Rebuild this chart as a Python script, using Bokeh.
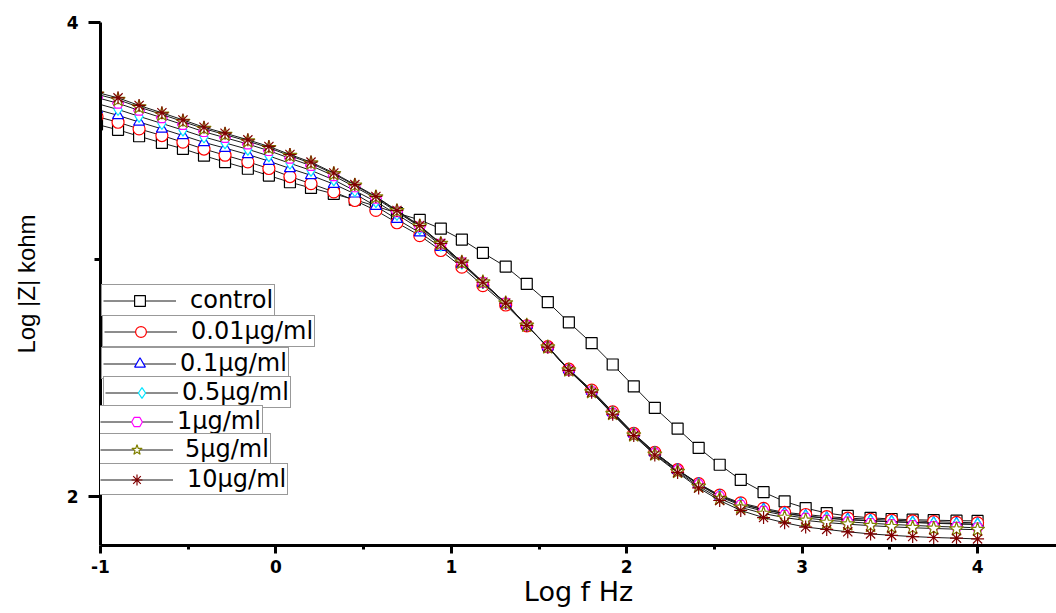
from bokeh.plotting import figure
from bokeh.models import Legend, LegendItem, FixedTicker, Range1d, ColumnDataSource
from bokeh.embed import file_html
from bokeh.resources import INLINE

# log10 of frequency (Hz)
log_f = [-1.02, -0.90, -0.78, -0.65, -0.53, -0.41, -0.29, -0.16, -0.04,
         0.08, 0.20, 0.33, 0.45, 0.57, 0.69, 0.82, 0.94,
         1.06, 1.18, 1.31, 1.43, 1.55, 1.67, 1.80, 1.92,
         2.04, 2.16, 2.29, 2.41, 2.53, 2.65, 2.78, 2.90,
         3.02, 3.14, 3.26, 3.39, 3.51, 3.63, 3.75, 3.88, 4.00]

control = [3.570, 3.547, 3.520, 3.492, 3.467, 3.438, 3.411, 3.383, 3.354,
           3.326, 3.302, 3.277, 3.252, 3.225, 3.196, 3.167, 3.130,
           3.084, 3.028, 2.970, 2.897, 2.820, 2.735, 2.647, 2.557,
           2.465, 2.374, 2.286, 2.205, 2.134, 2.070, 2.018, 1.979,
           1.951, 1.930, 1.918, 1.910, 1.905, 1.902, 1.900, 1.898, 1.897]

c_001 = [3.603, 3.579, 3.551, 3.523, 3.495, 3.466, 3.440, 3.412, 3.384,
         3.350, 3.320, 3.285, 3.249, 3.207, 3.155, 3.101, 3.038,
         2.968, 2.890, 2.808, 2.720, 2.632, 2.537, 2.449, 2.357,
         2.266, 2.186, 2.113, 2.054, 2.006, 1.973, 1.950, 1.933,
         1.924, 1.915, 1.909, 1.904, 1.900, 1.897, 1.894, 1.891, 1.889]

c_01 = [3.633, 3.608, 3.580, 3.551, 3.523, 3.494, 3.470, 3.443, 3.415,
        3.384, 3.355, 3.318, 3.277, 3.225, 3.170, 3.113, 3.052,
        2.980, 2.900, 2.814, 2.722, 2.631, 2.535, 2.445, 2.355,
        2.265, 2.185, 2.112, 2.053, 2.003, 1.969, 1.945, 1.929,
        1.918, 1.909, 1.903, 1.898, 1.894, 1.891, 1.888, 1.885, 1.883]

c_05 = [3.658, 3.633, 3.604, 3.574, 3.546, 3.517, 3.492, 3.465, 3.437,
        3.406, 3.376, 3.336, 3.290, 3.244, 3.190, 3.130, 3.060,
        2.984, 2.902, 2.815, 2.722, 2.631, 2.535, 2.445, 2.355,
        2.264, 2.184, 2.111, 2.052, 2.002, 1.968, 1.944, 1.927,
        1.917, 1.908, 1.902, 1.897, 1.893, 1.890, 1.887, 1.884, 1.882]

c_1 = [3.683, 3.659, 3.629, 3.598, 3.569, 3.539, 3.514, 3.487, 3.459,
       3.427, 3.396, 3.353, 3.306, 3.258, 3.201, 3.138, 3.065,
       2.987, 2.903, 2.816, 2.722, 2.630, 2.533, 2.442, 2.351,
       2.262, 2.182, 2.110, 2.050, 1.999, 1.963, 1.938, 1.921,
       1.909, 1.900, 1.893, 1.887, 1.882, 1.878, 1.874, 1.871, 1.868]

c_5 = [3.697, 3.674, 3.643, 3.612, 3.582, 3.552, 3.527, 3.499, 3.471,
       3.438, 3.406, 3.361, 3.313, 3.263, 3.205, 3.141, 3.067,
       2.988, 2.904, 2.816, 2.722, 2.630, 2.533, 2.441, 2.349,
       2.259, 2.178, 2.105, 2.043, 1.991, 1.954, 1.928, 1.911,
       1.899, 1.890, 1.883, 1.877, 1.872, 1.868, 1.865, 1.862, 1.860]

c_10 = [3.705, 3.682, 3.650, 3.619, 3.589, 3.558, 3.533, 3.505, 3.477,
        3.443, 3.411, 3.365, 3.316, 3.266, 3.207, 3.143, 3.068,
        2.989, 2.904, 2.816, 2.722, 2.630, 2.532, 2.440, 2.347,
        2.257, 2.175, 2.101, 2.036, 1.983, 1.941, 1.911, 1.889,
        1.871, 1.861, 1.851, 1.842, 1.836, 1.831, 1.827, 1.824, 1.821]

labels = ["control", "0.01µg/ml", "0.1µg/ml", "0.5µg/ml", "1µg/ml", "5µg/ml", "10µg/ml"]
series_values = [control, c_001, c_01, c_05, c_1, c_5, c_10]
markers = ["square", "circle", "triangle", "diamond", "hex", "star", "asterisk"]
colors = ["#000000", "#FF0000", "#0000FF", "#00E5FF", "#FF00FF", "#808000", "#800000"]
sizes = [11, 12, 11, 12, 11, 15, 13]

x_ticks = [-1, 0, 1, 2, 3, 4]
x_tick_labels = ["-1", "0", "1", "2", "3", "4"]
x_minor = [-0.5, 0.5, 1.5, 2.5, 3.5]
y_ticks = [2, 4]
y_minor = [3]

p = figure(width=1056, height=613, output_backend="svg", toolbar_location=None,
           x_range=Range1d(-1.0, 4.45), y_range=Range1d(1.7932, 4.0),
           min_border_left=100, min_border_right=0, min_border_top=22, min_border_bottom=68)
p.outline_line_color = None
p.xgrid.visible = False
p.ygrid.visible = False
p.background_fill_color = "white"
p.border_fill_color = "white"

xa = p.xaxis[0]
ya = p.yaxis[0]
xa.ticker = FixedTicker(ticks=x_ticks, minor_ticks=x_minor)
xa.major_label_overrides = {t: s for t, s in zip(x_ticks, x_tick_labels)}
ya.ticker = FixedTicker(ticks=y_ticks, minor_ticks=y_minor)
for ax in (xa, ya):
    ax.axis_line_width = 3
    ax.axis_line_color = "black"
    ax.major_tick_line_width = 3
    ax.minor_tick_line_width = 3
    ax.major_tick_line_color = "black"
    ax.minor_tick_line_color = "black"
    ax.major_tick_in = 0
    ax.minor_tick_in = 0
    ax.major_label_text_font = "DejaVu Sans"
    ax.major_label_text_font_style = "bold"
    ax.major_label_text_font_size = "17px"
    ax.major_label_text_color = "black"
    ax.axis_label_text_font_style = "normal"
    ax.axis_label_text_color = "black"

xa.major_tick_out = 8
xa.minor_tick_out = 4
xa.major_label_standoff = 6
xa.axis_label = "Log f Hz"
xa.axis_label_text_font = "DejaVu Sans"
xa.axis_label_text_font_size = "27px"
xa.axis_label_standoff = 0

ya.major_tick_out = 12
ya.minor_tick_out = 6
ya.major_label_standoff = 10
ya.axis_label = "Log |Z| kohm"
ya.axis_label_text_font = "Liberation Sans"
ya.axis_label_text_font_size = "24px"
ya.axis_label_standoff = 24

pairs = []
for lab, ys, mk, col, sz in zip(labels, series_values, markers, colors, sizes):
    src = ColumnDataSource(dict(x=log_f, y=ys))
    lr = p.line("x", "y", source=src, line_color="#1a1a1a", line_width=1)
    sr = p.scatter("x", "y", source=src, marker=mk, size=sz, line_color=col,
                   fill_color="white", line_width=1.2)
    pairs.append((lab, lr, sr))

# legend boxes: (x offset from frame left, y offset of box bottom from frame bottom, label standoff)
leg_x = [1, 2, 1, 3, -2, -2, -2]
leg_y = [229, 198, 166, 137, 108, 80, 50]
leg_standoff = [14, 14, 4, 4, 4, 12, 14]

for (lab, lr, sr), lx, ly, ls in zip(pairs, leg_x, leg_y, leg_standoff):
    leg = Legend(items=[LegendItem(label=lab, renderers=[lr, sr])],
                 location=(lx, ly), orientation="vertical",
                 label_text_font="DejaVu Sans", label_text_font_size="24px",
                 label_text_line_height=0.8,
                 label_text_color="black", label_height=20,
                 glyph_width=73, glyph_height=27, label_standoff=ls,
                 padding=1, margin=0, spacing=0,
                 border_line_color="#333333", border_line_width=1.5,
                 background_fill_color="white", background_fill_alpha=1.0)
    p.add_layout(leg)

open("out.html", "w").write(file_html(p, INLINE))
